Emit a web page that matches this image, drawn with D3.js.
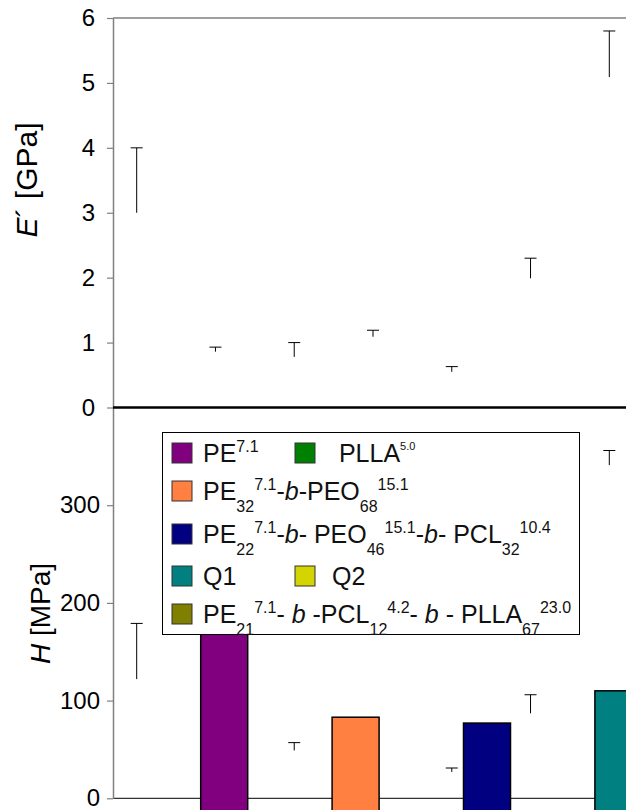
<!DOCTYPE html>
<html>
<head>
<meta charset="utf-8">
<script src="https://cdn.jsdelivr.net/npm/d3@7"></script>
<style>
  body { margin: 0; background: #fff; }
  text { font-family: "Liberation Sans", Arial, sans-serif; }
</style>
</head>
<body>
<div id="chart"></div>
<script>

// categories for the error bars (7 samples)
var samples = ["PE", "PLLA", "PE-b-PEO", "PE-b-PEO-b-PCL", "Q1", "Q2", "PE-b-PCL-b-PLLA"];

// storage modulus E' [GPa]: low end and high end of each error bar
var eLow  = [3.0, 0.86, 0.78, 1.09, 0.55, 1.99, 5.09];
var eHigh = [4.0, 0.93, 1.00, 1.19, 0.63, 2.30, 5.80];

// hardness H [MPa]: error bars (null = hidden behind a bar)
var hLow  = [122, null, 49, null, 27, 87, 341];
var hHigh = [179, null, 57, null, 31, 106, 356];

// visible bars of H [MPa]
var barNames  = ["PE", "PE-b-PEO", "PE-b-PEO-b-PCL", "Q1"];
var barValues = [185, 83, 77, 110];
var barColors = ["#800080", "#FF8040", "#000080", "#008080"];

var eTicks = [0, 1, 2, 3, 4, 5, 6];
var hTicks = [0, 100, 200, 300];

// legend entries: [text, style] parts
var legendItems = [
  {color: "#800080", col: 0, row: 0, parts: [["PE"], ["7.1", "sup"]]},
  {color: "#008000", col: 1, row: 0, parts: [[" PLLA"], ["5.0", "sups"]]},
  {color: "#FF8040", col: 0, row: 1, parts: [["PE"], ["32", "sub"], ["7.1", "sup"], ["-"], ["b", "i"], ["-PEO"], ["68", "sub"], ["15.1", "sup"]]},
  {color: "#000080", col: 0, row: 2, parts: [["PE"], ["22", "sub"], ["7.1", "sup"], ["-"], ["b", "i"], ["- PEO"], ["46", "sub"], ["15.1", "sup"], ["-"], ["b", "i"], ["- PCL"], ["32", "sub"], ["10.4", "sup"]]},
  {color: "#008080", col: 0, row: 3, parts: [["Q1"]]},
  {color: "#D4D400", col: 1, row: 3, parts: [["Q2"]]},
  {color: "#808000", col: 0, row: 4, parts: [["PE"], ["21", "sub"], ["7.1", "sup"], ["- "], ["b", "i"], [" -PCL"], ["12", "sub"], ["4.2", "sup"], ["- "], ["b", "i"], [" - PLLA"], ["67", "sub"], ["23.0", "sup"]]}
];

var width = 626, height = 810;
var axisX = 113;

var svg = d3.select("#chart")
  .append("svg")
    .attr("width", width)
    .attr("height", height);

// scales
var x = d3.scalePoint()
  .domain(samples)
  .range([136.7, 609.3]);

var xBar = d3.scalePoint()
  .domain(barNames)
  .range([224.2, 618.4]);
var barW = 47;

var yE = d3.scaleLinear().domain([0, 6]).range([407.5, 18]);
var yH = d3.scaleLinear().domain([0, 400]).range([798.3, 407.5]);

// top frame line
svg.append("line")
  .attr("x1", axisX).attr("x2", width)
  .attr("y1", yE(6)).attr("y2", yE(6))
  .attr("stroke", "#808080").attr("stroke-width", 1.5);

// bottom axis line of H panel
svg.append("line")
  .attr("x1", axisX).attr("x2", width)
  .attr("y1", yH(0)).attr("y2", yH(0))
  .attr("stroke", "#333").attr("stroke-width", 1.2);

// error bar helper
function errorBars(g, low, high, y) {
  var d = samples.map(function(s, i) { return {s: s, lo: low[i], hi: high[i]}; })
    .filter(function(d) { return d.lo != null; });
  g.selectAll("line.v").data(d).enter().append("line")
    .attr("x1", function(d) { return x(d.s); })
    .attr("x2", function(d) { return x(d.s); })
    .attr("y1", function(d) { return y(d.lo); })
    .attr("y2", function(d) { return y(d.hi); })
    .attr("stroke", "#000").attr("stroke-width", 1);
  g.selectAll("line.c").data(d).enter().append("line")
    .attr("x1", function(d) { return x(d.s) - 6; })
    .attr("x2", function(d) { return x(d.s) + 6; })
    .attr("y1", function(d) { return y(d.hi); })
    .attr("y2", function(d) { return y(d.hi); })
    .attr("stroke", "#000").attr("stroke-width", 1);
}

errorBars(svg.append("g"), eLow, eHigh, yE);
errorBars(svg.append("g"), hLow, hHigh, yH);

// bars (they run past the bottom of the picture)
svg.append("g").selectAll("rect")
  .data(barNames)
  .enter().append("rect")
    .attr("x", function(d) { return xBar(d) - barW / 2; })
    .attr("width", barW)
    .attr("y", function(d, i) { return yH(barValues[i]); })
    .attr("height", function(d, i) { return yH(-20) - yH(barValues[i]); })
    .attr("fill", function(d, i) { return barColors[i]; })
    .attr("stroke", "#000").attr("stroke-width", 1.5);

// y axes
var axE = svg.append("g")
  .attr("transform", "translate(" + axisX + ",0)")
  .call(d3.axisLeft(yE).tickValues(eTicks).tickFormat(d3.format("d"))
    .tickSize(6).tickSizeOuter(0).tickPadding(12));
var axH = svg.append("g")
  .attr("transform", "translate(" + axisX + ",0)")
  .call(d3.axisLeft(yH).tickValues(hTicks).tickFormat(d3.format("d"))
    .tickSize(6).tickSizeOuter(0).tickPadding(7));

[axE, axH].forEach(function(ax) {
  ax.select(".domain").attr("stroke", "#808080").attr("stroke-width", 1.5);
  ax.selectAll(".tick line").attr("stroke", "#808080").attr("stroke-width", 1.2);
  ax.selectAll(".tick text")
    .attr("fill", "#000")
    .style("font-size", "24px")
    .style("font-family", "'Liberation Sans', Arial, sans-serif");
});

// zero line of the E' panel
svg.append("line")
  .attr("x1", axisX).attr("x2", width)
  .attr("y1", yE(0)).attr("y2", yE(0))
  .attr("stroke", "#000").attr("stroke-width", 2.5);

// axis titles
var tE = svg.append("text")
  .attr("transform", "translate(37," + 180 + ") rotate(-90)")
  .attr("text-anchor", "middle")
  .style("font-size", "30px");
tE.append("tspan").style("font-style", "italic").text("E");
tE.append("tspan").text("\u00B4 [GPa]");

var tH = svg.append("text")
  .attr("transform", "translate(50," + 613.5 + ") rotate(-90)")
  .attr("text-anchor", "middle")
  .style("font-size", "28px");
tH.append("tspan").style("font-style", "italic").text("H");
tH.append("tspan").text(" [MPa]");

// legend
var legend = svg.append("g");
legend.append("rect")
  .attr("x", 162.5).attr("y", 432.5)
  .attr("width", 417).attr("height", 202)
  .attr("fill", "#fff").attr("stroke", "#000").attr("stroke-width", 1);

var rowY = [453, 491, 534, 576, 614];
var colX = [172, 295];
var textX = [203, 332];

legendItems.forEach(function(item) {
  var cy = rowY[item.row];
  legend.append("rect")
    .attr("x", colX[item.col]).attr("y", cy - 10)
    .attr("width", 20).attr("height", 20)
    .attr("fill", item.color)
    .attr("stroke", "#333").attr("stroke-width", 1);

  var t = legend.append("text")
    .attr("x", textX[item.col]).attr("y", cy + 8.5)
    .style("font-size", "25px")
    .style("white-space", "pre")
    .attr("fill", "#111");

  var off = 0;
  item.parts.forEach(function(p) {
    var type = p[1] || "n";
    var target = type == "sub" ? 12 : (type == "sup" ? -10 : (type == "sups" ? -12 : 0));
    var ts = t.append("tspan").text(p[0]).attr("dy", target - off);
    off = target;
    if (type == "sub" || type == "sup") ts.style("font-size", "16px");
    if (type == "sups") ts.style("font-size", "11px");
    if (type == "i") ts.style("font-style", "italic");
  });
});

</script>
</body>
</html>
